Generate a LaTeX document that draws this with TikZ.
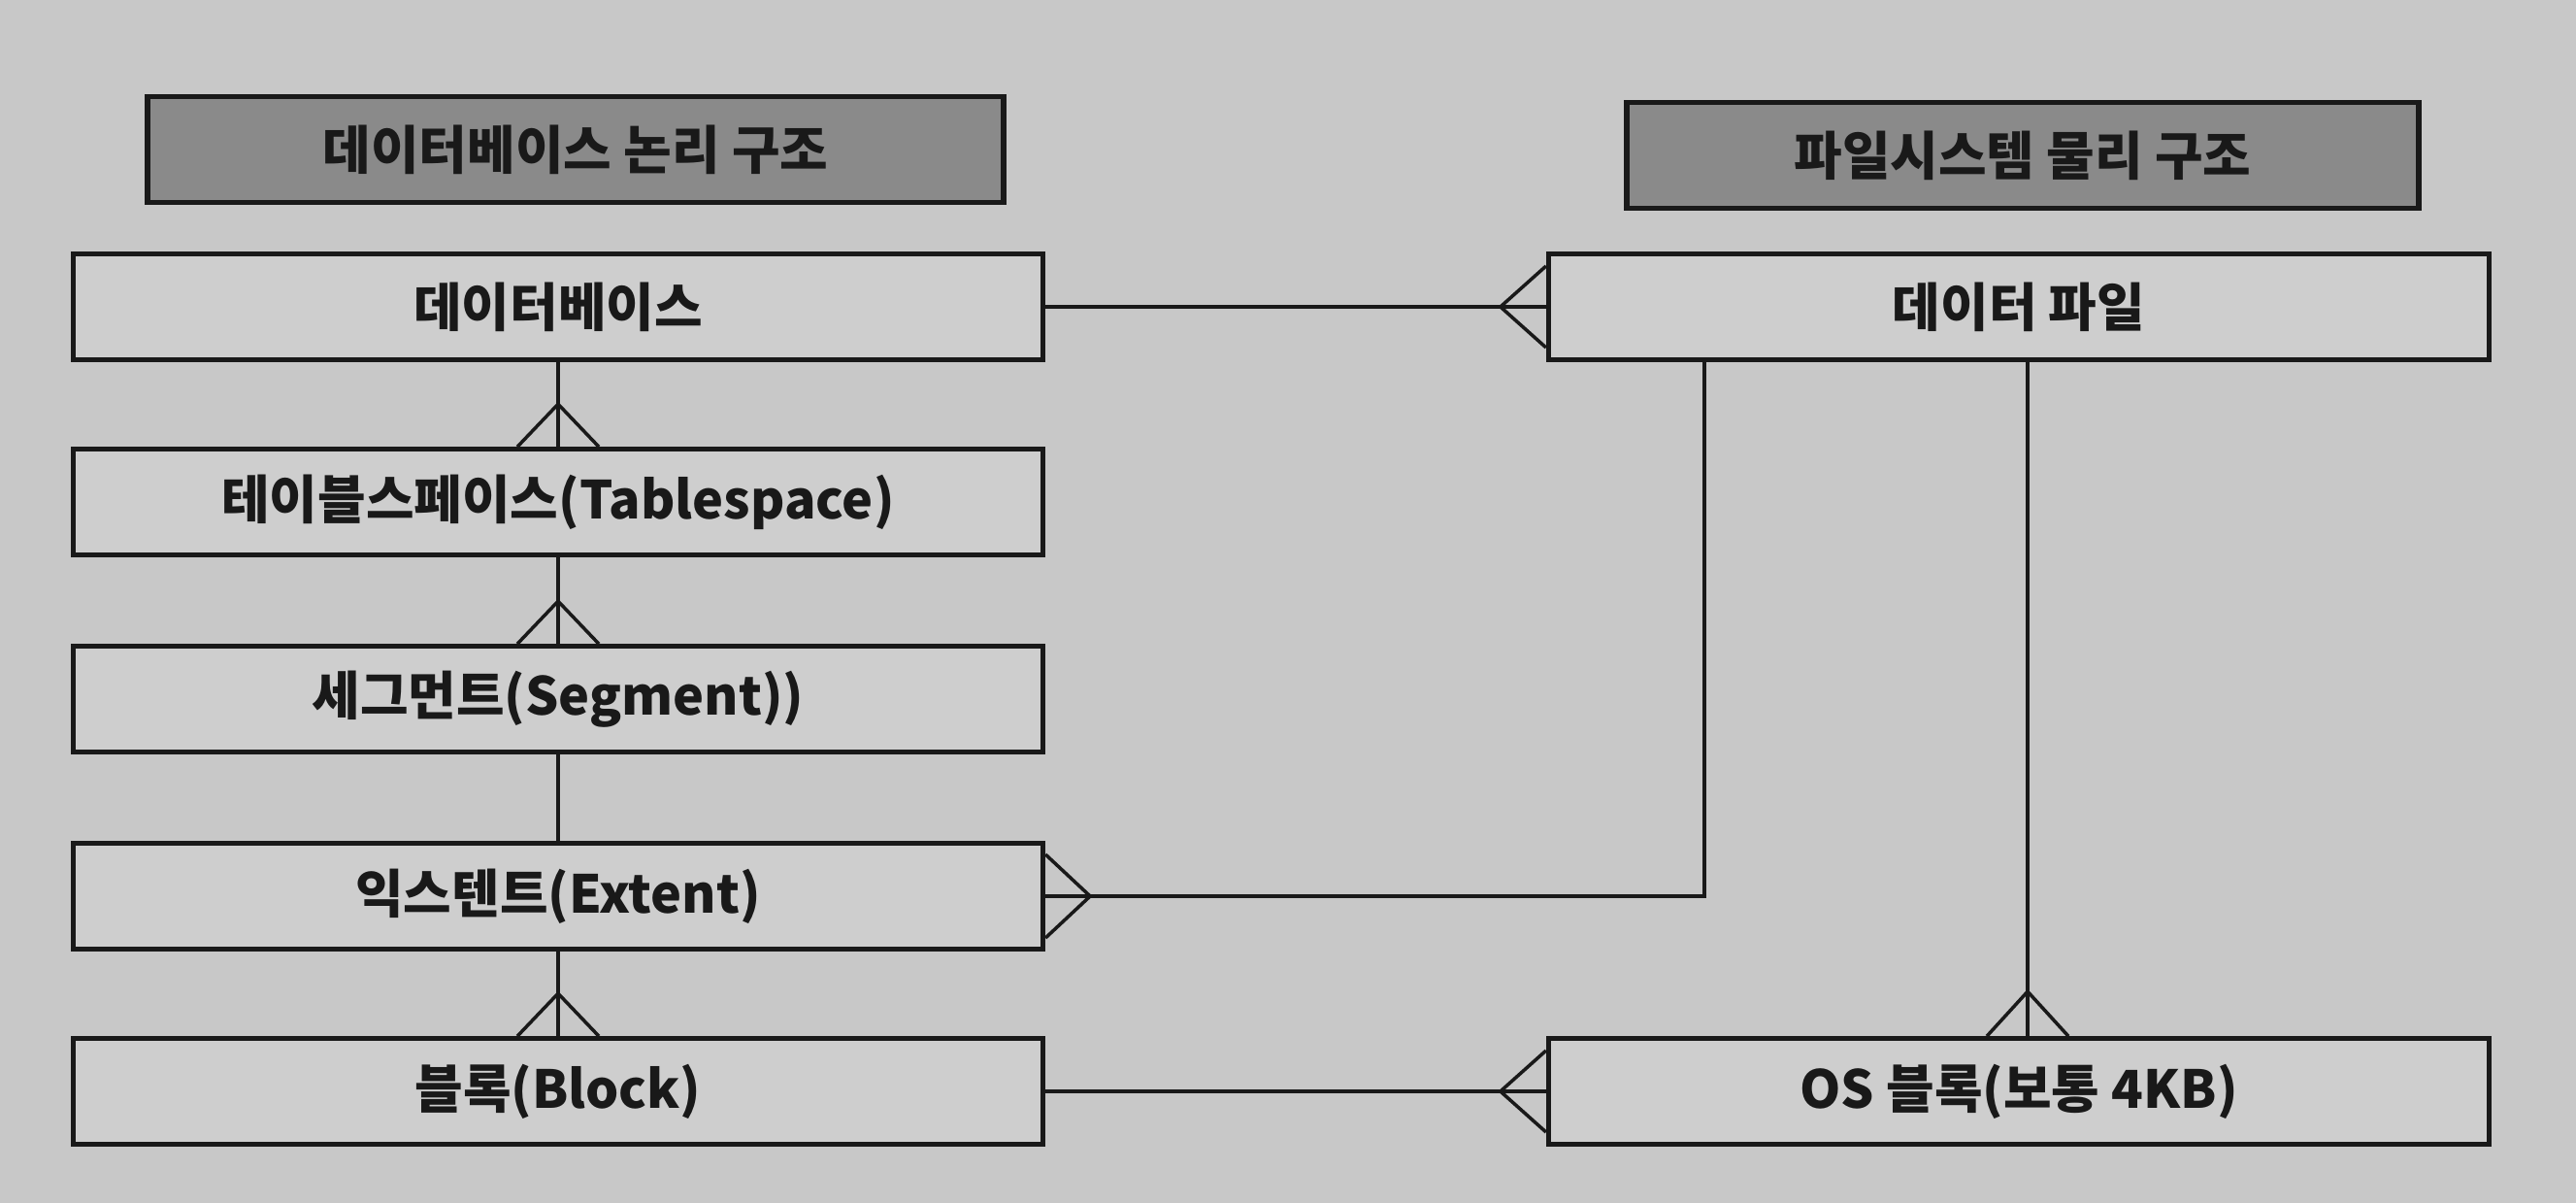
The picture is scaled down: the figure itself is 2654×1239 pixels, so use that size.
\documentclass[tikz,border=0pt]{standalone}
\usepackage{fontspec}
\setmainfont{Noto Sans CJK KR}
\usetikzlibrary{calc}
\definecolor{paper}{RGB}{200,200,200}
\definecolor{boxfill}{RGB}{206,206,206}
\definecolor{headfill}{RGB}{138,138,138}
\definecolor{ink}{RGB}{25,25,25}
\tikzset{
  box/.style={draw=ink, line width=4.5pt, fill=boxfill, rectangle, inner sep=0pt,
    minimum height=3.25cm, text=ink, font=\fontsize{46}{54}\selectfont\bfseries},
  leftbox/.style={box, minimum width=29.97cm},
  rightbox/.style={box, minimum width=29.07cm},
  headbox/.style={box, fill=headfill, minimum height=3.25cm},
  conn/.style={draw=ink, line width=3pt}
}
\begin{document}
\begin{tikzpicture}[x=0.03cm,y=-0.03cm]
\fill[paper] (0,0) rectangle (2654,1239);
\useasboundingbox (0,0) rectangle (2654,1239);
% headers
\node[headbox, minimum width=26.46cm] (hl) at (593,154) {데이터베이스 논리 구조};
\node[headbox, minimum width=24.48cm] (hr) at (2084,160) {파일시스템 물리 구조};
% left chain
\node[leftbox] (db)  at (575,316)  {데이터베이스};
\node[leftbox] (ts)  at (575,517)  {테이블스페이스(Tablespace)};
\node[leftbox] (seg) at (575,720)  {세그먼트(Segment))};
\node[leftbox] (ext) at (575,923)  {익스텐트(Extent)};
\node[leftbox] (blk) at (575,1124) {블록(Block)};
% right
\node[rightbox] (df) at (2080,316)  {데이터 파일};
\node[rightbox] (os) at (2080,1124) {OS 블록(보통 4KB)};
% vertical connectors on the left
\draw[conn] (db.south) -- (ts.north);
\draw[conn] ($(ts.north)+(-42,0)$) -- ($(ts.north)+(0,-44)$) -- ($(ts.north)+(42,0)$);
\draw[conn] (ts.south) -- (seg.north);
\draw[conn] ($(seg.north)+(-42,0)$) -- ($(seg.north)+(0,-44)$) -- ($(seg.north)+(42,0)$);
\draw[conn] (seg.south) -- (ext.north);
\draw[conn] (ext.south) -- (blk.north);
\draw[conn] ($(blk.north)+(-42,0)$) -- ($(blk.north)+(0,-44)$) -- ($(blk.north)+(42,0)$);
% database -- data file
\draw[conn] (db.east) -- (df.west);
\draw[conn] ($(df.west)+(0,-42)$) -- ($(df.west)+(-47,0)$) -- ($(df.west)+(0,42)$);
% data file -- extent
\coordinate (dfa) at ($(df.south)+(-324,0)$);
\draw[conn] (dfa) |- (ext.east);
\draw[conn] ($(ext.east)+(0,-43)$) -- ($(ext.east)+(46,0)$) -- ($(ext.east)+(0,43)$);
% data file -- OS block
\coordinate (dfb) at ($(df.south)+(9,0)$);
\draw[conn] (dfb) -- (dfb |- os.north);
\draw[conn] ($(dfb |- os.north)+(-42,0)$) -- ($(dfb |- os.north)+(0,-46)$) -- ($(dfb |- os.north)+(42,0)$);
% block -- OS block
\draw[conn] (blk.east) -- (os.west);
\draw[conn] ($(os.west)+(0,-42)$) -- ($(os.west)+(-47,0)$) -- ($(os.west)+(0,42)$);
\end{tikzpicture}
\end{document}
